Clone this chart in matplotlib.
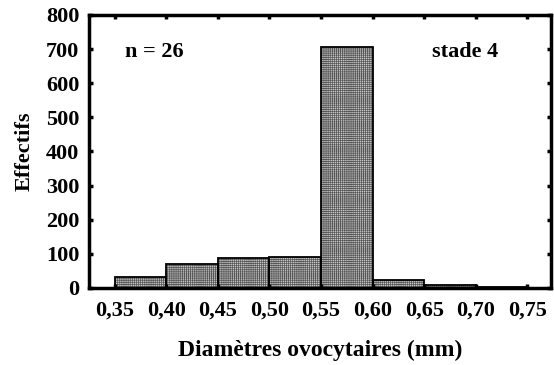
import matplotlib
matplotlib.use("Agg")
import matplotlib.pyplot as plt

plt.rcParams["font.family"] = ["Liberation Serif", "DejaVu Serif"]
plt.rcParams["font.weight"] = "bold"
plt.rcParams["hatch.linewidth"] = 0.5

# classes de diametre (mm) et effectifs
bin_edges = [0.35, 0.40, 0.45, 0.50, 0.55, 0.60, 0.65, 0.70, 0.75]
counts = [32, 70, 88, 92, 707, 23, 8, 2]
xticks = [0.35, 0.40, 0.45, 0.50, 0.55, 0.60, 0.65, 0.70, 0.75]
yticks = [0, 100, 200, 300, 400, 500, 600, 700, 800]


def main():
    fig = plt.figure(figsize=(5.54, 3.65), dpi=100)
    ax = fig.add_axes([0.1606, 0.211, 0.834, 0.748])

    lefts = bin_edges[:-1]
    widths = [b - a for a, b in zip(bin_edges[:-1], bin_edges[1:])]
    ax.bar(lefts, counts, width=widths, align="edge",
           facecolor="#c8c8c8", edgecolor="#555555", linewidth=0,
           hatch="++++++++")
    # contour noir par-dessus la trame
    ax.bar(lefts, counts, width=widths, align="edge",
           facecolor="none", edgecolor="black", linewidth=1.3)

    ax.set_xlim(0.325, 0.773)
    ax.set_ylim(0, 800)
    ax.set_xticks(xticks)
    ax.set_xticklabels([f"{t:.2f}".replace(".", ",") for t in xticks])
    ax.set_yticks(yticks)

    ax.tick_params(direction="in", length=3, width=2.5, labelsize=16,
                   top=True, right=True)
    ax.tick_params(axis="x", pad=9)
    ax.tick_params(axis="y", pad=7)
    for s in ax.spines.values():
        s.set_linewidth(2.5)

    ax.set_xlabel("Diamètres ovocytaires (mm)", fontsize=17,
                  fontweight="bold", labelpad=14)
    ax.set_ylabel("Effectifs", fontsize=16, fontweight="bold", labelpad=8)

    ax.text(0.078, 0.864, "n = 26", transform=ax.transAxes, fontsize=16,
            fontweight="bold", va="center")
    ax.text(0.742, 0.864, "stade 4", transform=ax.transAxes, fontsize=16,
            fontweight="bold", va="center")

    fig.savefig("out.png", dpi=100)


if __name__ == "__main__":
    main()
